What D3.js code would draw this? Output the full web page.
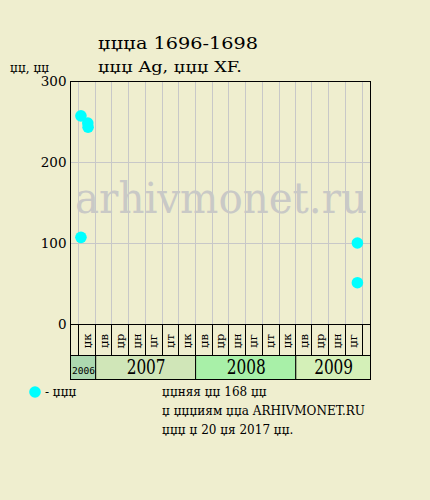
<!DOCTYPE html>
<html lang="ru">
<head>
    <meta charset="UTF-8">
    <title>џџџа 1696-1698</title>
    <script src="https://d3js.org/d3.v7.min.js"></script>
    <style>
        body { margin: 0; background: #efeecf; }
        svg { display: block; font-family: "DejaVu Serif", serif; }
    </style>
</head>
<body>
    <div id="chart"></div>
    <script>
        // sale dates and prices
        const saleDates = ["2006-11-10", "2006-12-05", "2006-12-06", "2006-11-10", "2009-08-16", "2009-08-16"];
        const salePrices = [257, 248, 243, 107, 100, 51];

        const yTicks = [0, 100, 200, 300];
        const monthLabels = ["џк", "џв", "џр", "џн", "џг", "џт", "џк", "џв", "џр", "џн", "џг", "џт", "џк", "џв", "џр", "џн", "џг"];
        const yearLabels = ["2006", "2007", "2008", "2009"];
        const yearColors = ["#acd8b0", "#d0e6b8", "#a8f0a8", "#d4f0b8"];

        const width = 430, height = 500;
        const plotLeft = 70, plotRight = 370, plotTop = 81, plotBottom = 324;
        const labelH = 31, yearH = 24;

        const parse = d3.timeParse("%Y-%m-%d");
        const start = parse("2006-10-01"), end = parse("2009-10-01");

        const svg = d3.select("#chart").append("svg")
            .attr("width", width)
            .attr("height", height);

        const x = d3.scaleTime().domain([start, end]).range([plotLeft, plotRight]);
        const y = d3.scaleLinear().domain([0, 300]).range([plotBottom, plotTop]);

        // watermark
        svg.append("text")
            .attr("x", 75).attr("y", 213)
            .attr("textLength", 292)
            .attr("lengthAdjust", "spacingAndGlyphs")
            .attr("font-size", 42)
            .attr("fill", "#c9c9c6")
            .text("arhivmonet.ru");

        // grid lines
        const gridMonths = d3.timeMonth.range(d3.timeMonth.offset(start, 1), end).filter(d => d.getMonth() % 2 === 0);
        const labelMonths = d3.timeMonth.range(d3.timeMonth.offset(start, 2), end).filter(d => d.getMonth() % 2 === 1);

        svg.append("g").selectAll("line")
            .data(gridMonths)
            .join("line")
            .attr("x1", d => Math.round(x(d)) + 0.5).attr("x2", d => Math.round(x(d)) + 0.5)
            .attr("y1", plotTop).attr("y2", plotBottom)
            .attr("stroke", "#c8c8c8");

        svg.append("g").selectAll("line")
            .data(yTicks.filter(d => d > 0 && d < 300))
            .join("line")
            .attr("x1", plotLeft).attr("x2", plotRight)
            .attr("y1", d => Math.round(y(d)) + 0.5).attr("y2", d => Math.round(y(d)) + 0.5)
            .attr("stroke", "#c8c8c8");

        // label area separators
        svg.append("g").selectAll("line")
            .data(gridMonths)
            .join("line")
            .attr("x1", d => Math.round(x(d)) + 0.5).attr("x2", d => Math.round(x(d)) + 0.5)
            .attr("y1", plotBottom).attr("y2", plotBottom + labelH)
            .attr("stroke", "#000");

        svg.append("g").selectAll("text")
            .data(labelMonths)
            .join("text")
            .attr("transform", d => `translate(${x(d) + 4},${plotBottom + 17}) rotate(-90)`)
            .attr("text-anchor", "middle")
            .attr("font-size", 11.5)
            .text((d, i) => monthLabels[i]);

        // year bands
        const yearStarts = yearLabels.map((yr, i) => i === 0 ? start : parse(yr + "-01-01"));
        const yearEnds = yearLabels.map((yr, i) => i === yearLabels.length - 1 ? end : parse((+yr + 1) + "-01-01"));
        const band = svg.append("g").selectAll("g")
            .data(yearLabels)
            .join("g");
        band.append("rect")
            .attr("x", (d, i) => x(yearStarts[i]) + 0.5)
            .attr("y", plotBottom + labelH + 0.5)
            .attr("width", (d, i) => x(yearEnds[i]) - x(yearStarts[i]))
            .attr("height", yearH)
            .attr("fill", (d, i) => yearColors[i])
            .attr("stroke", "#000");
        band.append("text")
            .attr("x", (d, i) => (x(yearStarts[i]) + x(yearEnds[i])) / 2 + 1)
            .attr("y", (d, i) => plotBottom + labelH + 19)
            .attr("text-anchor", "middle")
            .attr("font-size", (d, i) => i === 0 ? 9.5 : 20)
            .attr("textLength", (d, i) => i === 0 ? 23 : 39)
            .attr("lengthAdjust", "spacingAndGlyphs")
            .attr("font-family", (d, i) => i === 0 ? "DejaVu Sans Mono, monospace" : null)
            .text(d => d);

        // frame
        svg.append("rect")
            .attr("x", plotLeft + 0.5).attr("y", plotTop + 0.5)
            .attr("width", plotRight - plotLeft).attr("height", plotBottom + labelH - plotTop)
            .attr("fill", "none").attr("stroke", "#000");
        svg.append("line")
            .attr("x1", plotLeft).attr("x2", plotRight)
            .attr("y1", plotBottom + 0.5).attr("y2", plotBottom + 0.5)
            .attr("stroke", "#000");

        // y axis
        const yAxis = svg.append("g")
            .attr("transform", `translate(${plotLeft + 0.5},0)`)
            .call(d3.axisLeft(y).tickValues(yTicks).tickSize(0).tickPadding(4));
        yAxis.select(".domain").remove();
        yAxis.selectAll("text").attr("font-size", 13.5).attr("font-family", "DejaVu Serif, serif").attr("fill", "#000");

        // points
        svg.append("g").selectAll("circle")
            .data(saleDates)
            .join("circle")
            .attr("cx", d => x(parse(d)))
            .attr("cy", (d, i) => y(salePrices[i]))
            .attr("r", 5.8)
            .attr("fill", "#00ffff");

        // titles
        svg.append("text").attr("x", 98).attr("y", 49).attr("font-size", 17.5)
            .attr("textLength", 160).attr("lengthAdjust", "spacingAndGlyphs").text("џџџа 1696-1698");
        svg.append("text").attr("x", 98).attr("y", 72).attr("font-size", 15.5)
            .attr("textLength", 144).attr("lengthAdjust", "spacingAndGlyphs").text("џџџ Ag, џџџ XF.");
        svg.append("text").attr("x", 10).attr("y", 72).attr("font-size", 12).text("џџ, џџ");

        // legend and notes
        svg.append("circle").attr("cx", 35).attr("cy", 392).attr("r", 5.8).attr("fill", "#00ffff");
        svg.append("text").attr("x", 45).attr("y", 396).attr("font-size", 12).text("- џџџ");

        const notes = ["џџняя џџ 168 џџ", "џ џџџиям џџа ARHIVMONET.RU", "џџџ џ 20 џя 2017 џџ."];
        svg.append("g").selectAll("text")
            .data(notes)
            .join("text")
            .attr("x", 162)
            .attr("y", (d, i) => 396 + i * 19)
            .attr("font-size", 12)
            .text(d => d);
    </script>
</body>
</html>
